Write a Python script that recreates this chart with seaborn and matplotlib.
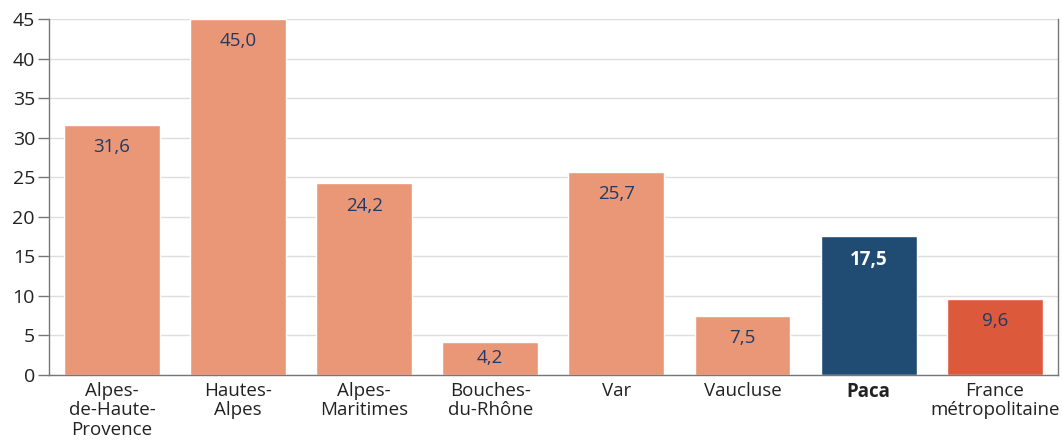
import pandas as pd
import matplotlib.pyplot as plt
import seaborn as sns

# données
territoires = ["Alpes-\nde-Haute-\nProvence", "Hautes-\nAlpes", "Alpes-\nMaritimes", "Bouches-\ndu-Rhône",
               "Var", "Vaucluse", "Paca", "France\nmétropolitaine"]
valeurs = [31.6, 45.0, 24.2, 4.2, 25.7, 7.5, 17.5, 9.6]
couleurs = ["#EA9778", "#EA9778", "#EA9778", "#EA9778", "#EA9778", "#EA9778", "#204B72", "#DC5A3B"]

df = pd.DataFrame({"territoire": territoires, "valeur": valeurs})

sns.set_style("white")
plt.rcParams['font.family'] = ['Open Sans', 'DejaVu Sans']

fig = plt.figure(figsize=(10.62, 4.42), dpi=100)
ax = fig.add_axes([0.046, 0.152, 0.95, 0.805])

sns.barplot(data=df, x="territoire", y="valeur", hue="territoire", palette=couleurs,
            width=0.76, saturation=1, legend=False, ax=ax, zorder=2)

ax.set_ylim(0, 45)
ax.set_xlim(-0.5, len(territoires) - 0.5)
ax.set_yticks(range(0, 46, 5))
ax.yaxis.grid(True, color="#DDDDDD", linewidth=1, zorder=0)
ax.set_axisbelow(True)
ax.set_xlabel("")
ax.set_ylabel("")

for s in ["left", "bottom", "right"]:
    ax.spines[s].set_color("#777777")
    ax.spines[s].set_linewidth(1)
ax.spines["top"].set_visible(False)

ax.tick_params(axis="y", length=8, width=1, color="#777777", labelsize=14, labelcolor="#222222", pad=2, left=True)
ax.tick_params(axis="x", length=0, labelsize=13.5, labelcolor="#222222", pad=5)
for lab in ax.get_xticklabels():
    lab.set_linespacing(1.12)
    lab.set_verticalalignment("top")
    if lab.get_text() == "Paca":
        lab.set_fontweight("bold")

# étiquettes de valeurs (dans le haut de la barre, plus près du bord si la barre est courte)
for i, v in enumerate(valeurs):
    txt = f"{v:.1f}".replace(".", ",")
    decal = 0.9 if v < 5 else 1.7
    if territoires[i] == "Paca":
        ax.text(i, v - decal, txt, ha="center", va="top", fontsize=13.5, color="white", fontweight="bold")
    else:
        ax.text(i, v - decal, txt, ha="center", va="top", fontsize=13.5, color="#1F3A66")

fig.savefig("out.png", dpi=100)
